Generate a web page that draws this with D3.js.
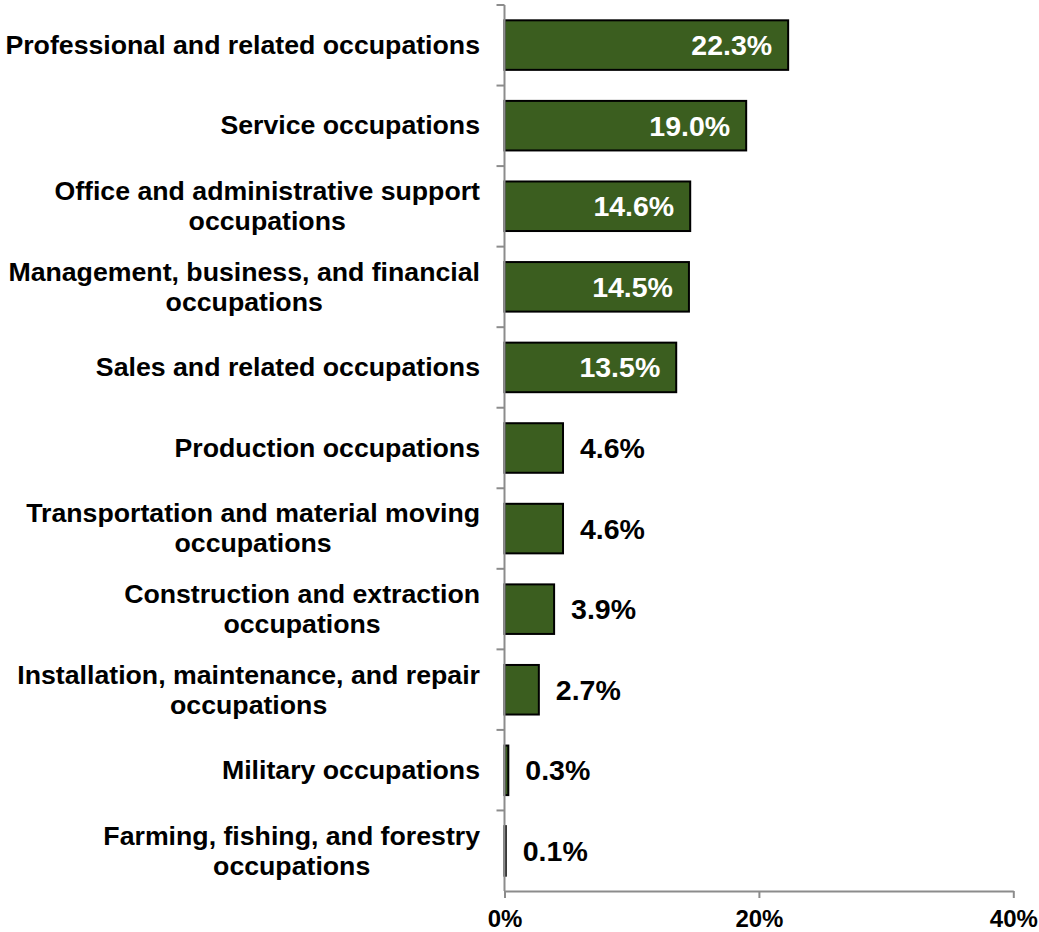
<!DOCTYPE html>
<html>
<head>
<meta charset="utf-8">
<script src="https://cdn.jsdelivr.net/npm/d3@7"></script>
<style>
  html, body { margin: 0; padding: 0; background: #fff; }
  svg { display: block; font-family: "Liberation Sans", Arial, sans-serif; font-weight: bold; }
</style>
</head>
<body>
<svg id="chart" width="1039" height="932"></svg>
<script>
// Share of employment by occupation group (percent)
const categories = [
  "Professional and related occupations",
  "Service occupations",
  "Office and administrative support\noccupations",
  "Management, business, and financial\noccupations",
  "Sales and related occupations",
  "Production occupations",
  "Transportation and material moving\noccupations",
  "Construction and extraction\noccupations",
  "Installation, maintenance, and repair\noccupations",
  "Military occupations",
  "Farming, fishing, and forestry\noccupations"
];
const values = [22.3, 19.0, 14.6, 14.5, 13.5, 4.6, 4.6, 3.9, 2.7, 0.3, 0.1];
const xTicks = [0, 20, 40];

const svg = d3.select("#chart");
const plotLeft = 504.5, plotRight = 1013.3, plotTop = 5, plotBottom = 891;

const x = d3.scaleLinear().domain([0, 40]).range([plotLeft, plotRight]);
const y = d3.scaleBand().domain(categories).range([plotTop, plotBottom])
  .paddingInner(0.385).paddingOuter(0.19);
const axisColor = "#8c8c8c";

// bars
svg.append("g").selectAll("rect")
  .data(values)
  .join("rect")
  .attr("x", x(0))
  .attr("y", (d, i) => y(categories[i]))
  .attr("width", d => x(d) - x(0))
  .attr("height", y.bandwidth())
  .attr("fill", "#3b5e1f")
  .attr("stroke", "#000")
  .attr("stroke-width", 2);

// y axis line with ticks between categories
const step = (plotBottom - plotTop) / categories.length;
const yAxis = svg.append("g").attr("stroke", axisColor).attr("stroke-width", 2);
yAxis.append("line").attr("x1", plotLeft).attr("x2", plotLeft).attr("y1", plotTop).attr("y2", plotBottom);
yAxis.selectAll("line.tick")
  .data(d3.range(categories.length))
  .join("line").attr("class", "tick")
  .attr("x1", plotLeft - 8).attr("x2", plotLeft)
  .attr("y1", i => plotTop + i * step).attr("y2", i => plotTop + i * step);

// x axis
const xAxis = d3.axisBottom(x).tickValues(xTicks).tickFormat(d => d + "%")
  .tickSizeInner(7).tickSizeOuter(0).tickPadding(12);
const gx = svg.append("g").attr("transform", `translate(0,${plotBottom})`).call(xAxis);
gx.select(".domain").attr("stroke", axisColor).attr("stroke-width", 2);
gx.selectAll(".tick line").attr("stroke", axisColor).attr("stroke-width", 2);
gx.selectAll(".tick text")
  .attr("font-family", "'Liberation Sans', Arial, sans-serif")
  .attr("font-weight", "bold")
  .attr("font-size", 24)
  .attr("fill", "#000");

// category labels, multi-line blocks centred on their widest line, right-aligned to the axis
const labelRight = 480, lineH = 30;
categories.forEach((c, i) => {
  const lines = c.split("\n");
  const cy = y(c) + y.bandwidth() / 2;
  const g = svg.append("g");
  const texts = lines.map((ln, k) => g.append("text")
    .attr("font-size", 26.7)
    .attr("fill", "#000")
    .attr("text-anchor", "middle")
    .attr("y", cy + (k - (lines.length - 1) / 2) * lineH)
    .attr("dy", "0.33em")
    .text(ln));
  const w = d3.max(texts, t => t.node().getComputedTextLength());
  texts.forEach(t => t.attr("x", labelRight - w / 2));
});

// value labels
svg.append("g").selectAll("text")
  .data(values)
  .join("text")
  .attr("font-size", 28.5)
  .attr("y", (d, i) => y(categories[i]) + y.bandwidth() / 2)
  .attr("dy", "0.35em")
  .attr("x", d => d > 10 ? x(d) - 16 : x(d) + 17)
  .attr("text-anchor", d => d > 10 ? "end" : "start")
  .attr("fill", d => d > 10 ? "#fff" : "#000")
  .text(d => d.toFixed(1) + "%");
</script>
</body>
</html>
